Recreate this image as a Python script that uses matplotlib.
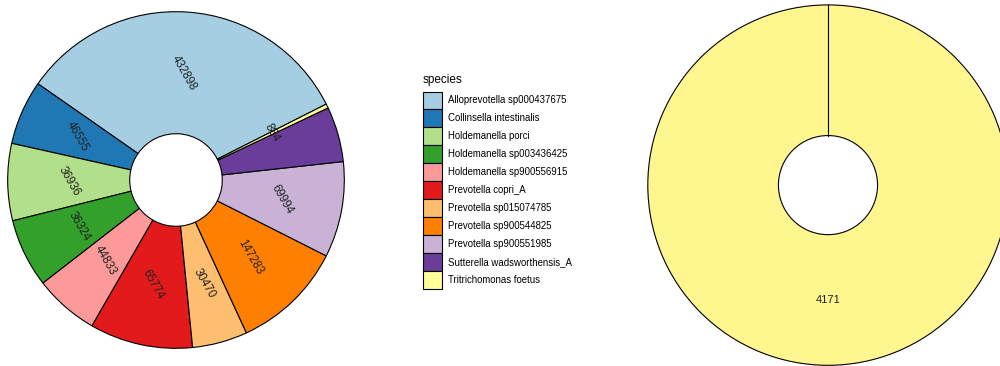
import matplotlib
matplotlib.use("Agg")
import numpy as np
import matplotlib.pyplot as plt
from matplotlib.patches import Patch

plt.rcParams['font.family'] = ['Liberation Sans', 'DejaVu Sans']

# species and their fill colours (brewer "Paired")
species = ['Alloprevotella sp000437675', 'Collinsella intestinalis',
           'Holdemanella porci', 'Holdemanella sp003436425',
           'Holdemanella sp900556915', 'Prevotella copri_A',
           'Prevotella sp015074785', 'Prevotella sp900544825',
           'Prevotella sp900551985', 'Sutterella wadsworthensis_A',
           'Tritrichomonas foetus']
colors = ['#A6CEE3', '#1F78B4', '#B2DF8A', '#33A02C', '#FB9A99', '#E31A1C',
          '#FDBF6F', '#FF7F00', '#CAB2D6', '#6A3D9A', '#FFFF99']

# sample A: share of each slice (%) and the count printed on it
share_a = [32.9, 6.2, 7.4, 6.6, 6.2, 9.9, 5.3, 10.7, 9.2, 5.3, 0.4]
counts_a = ['432898', '46555', '36936', '36324', '44833', '65774',
            '30470', '147283', '69994', '', '884']

# sample B: only Tritrichomonas foetus
share_b = [100]
counts_b = ['4171']
color_b = '#FFF68F'

hole = 0.275

fig = plt.figure(figsize=(10, 3.66), dpi=100)

# left donut
ax1 = fig.add_axes([0.006, 0.0437, 0.34, 0.929])
wedges, texts = ax1.pie(share_a, colors=colors, labels=counts_a,
                        labeldistance=(1 + hole) / 2, startangle=26.8,
                        counterclock=True, radius=1,
                        wedgeprops=dict(width=1 - hole, edgecolor='black',
                                        linewidth=0.8))
for t in texts:
    t.set_ha('center')
    t.set_va('center')
    t.set_rotation(-60)
    t.set_fontsize(8.3)
    t.set_color('#222222')
ax1.set_xlim(-1.01, 1.01)
ax1.set_ylim(-1.01, 1.01)
ax1.set_aspect('equal')
ax1.axis('off')

# right donut
ax2 = fig.add_axes([0.646, -0.003, 0.364, 0.9945])
wedges2, texts2 = ax2.pie(share_b, colors=[color_b], labels=counts_b,
                          labeldistance=(1 + hole) / 2, startangle=90,
                          counterclock=False, radius=1,
                          wedgeprops=dict(width=1 - hole, edgecolor='black',
                                          linewidth=0.8))
for t in texts2:
    t.set_ha('center')
    t.set_va('center')
    t.set_fontsize(8)
    t.set_color('#222222')

# a full ring has no radial edge, so draw the seam where the slice starts
w = wedges2[0]
ang = np.deg2rad(w.theta1)
r_in = w.r - w.width
ax2.plot([r_in * np.cos(ang), w.r * np.cos(ang)],
         [r_in * np.sin(ang), w.r * np.sin(ang)],
         color='black', linewidth=0.8)
ax2.set_xlim(-1.01, 1.01)
ax2.set_ylim(-1.01, 1.01)
ax2.set_aspect('equal')
ax2.axis('off')

# legend (title placed separately to leave a gap above the keys)
fig.text(0.423, 1 - 80 / 366, 'species', fontsize=8.5, ha='left', va='center')
handles = [Patch(facecolor=c, edgecolor='black', linewidth=0.8) for c in colors]
leg = fig.legend(handles, species, loc='upper left',
                 bbox_to_anchor=(0.423, 1 - 91.5 / 366), frameon=False,
                 fontsize=6.9, handlelength=2.0, handleheight=2.5,
                 labelspacing=0, handletextpad=0.6, borderpad=0,
                 borderaxespad=0)

fig.savefig('out.png', dpi=100)
